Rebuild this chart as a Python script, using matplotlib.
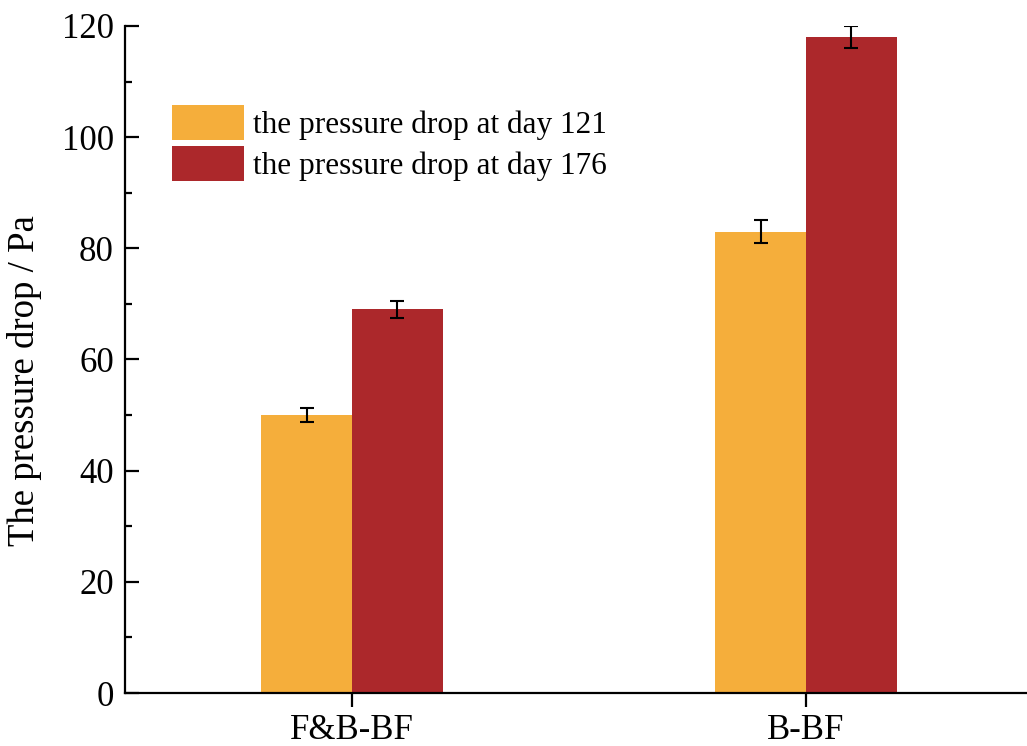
import numpy as np
import matplotlib.pyplot as plt
from matplotlib.ticker import MultipleLocator

plt.rcParams['font.family'] = ['Liberation Serif', 'DejaVu Serif']

# Data
categories = ['F&B-BF', 'B-BF']
day121 = [50, 83]
day121_err = [1.2, 2.1]
day176 = [69, 118]
day176_err = [1.6, 2.0]
labels = ['the pressure drop at day 121', 'the pressure drop at day 176']

fig = plt.figure(figsize=(10.27, 7.46), dpi=100)
ax = fig.add_axes([125 / 1027, 1 - 693 / 746, 1 - 125 / 1027, (693 - 26) / 746])

x = np.arange(1, len(categories) + 1)
w = 0.2
err_kw = dict(ecolor='black', elinewidth=1.5, capsize=5, capthick=1.5)
ax.bar(x - w / 2, day121, w, yerr=day121_err, color='#F5AE3B',
       label=labels[0], error_kw=err_kw)
ax.bar(x + w / 2, day176, w, yerr=day176_err, color='#AC282B',
       label=labels[1], error_kw=err_kw)

# Axes styling
ax.set_xlim(0.5, 2.487)
ax.set_ylim(0, 120)
ax.set_xticks(x)
ax.set_xticklabels(categories)
ax.yaxis.set_major_locator(MultipleLocator(20))
ax.yaxis.set_minor_locator(MultipleLocator(10))
for side in ['top', 'right']:
    ax.spines[side].set_visible(False)
for side in ['left', 'bottom']:
    ax.spines[side].set_linewidth(1.6)
ax.tick_params(axis='y', which='major', direction='in', length=10, width=1.6, labelsize=25, pad=8)
ax.tick_params(axis='y', which='minor', direction='in', length=5, width=1.6)
ax.tick_params(axis='x', which='major', direction='out', length=10, width=1.6, labelsize=25, pad=5)
ax.set_ylabel('The pressure drop / Pa', fontsize=26.5)
ax.yaxis.set_label_coords(-0.092, 0.469)

ax.legend(loc='upper left', bbox_to_anchor=(0.052, 0.882), frameon=False,
          fontsize=22.5, handlelength=2.3, handleheight=1.34, handletextpad=0.3,
          labelspacing=0.2, borderaxespad=0, borderpad=0)

fig.savefig('out.png', dpi=100)
